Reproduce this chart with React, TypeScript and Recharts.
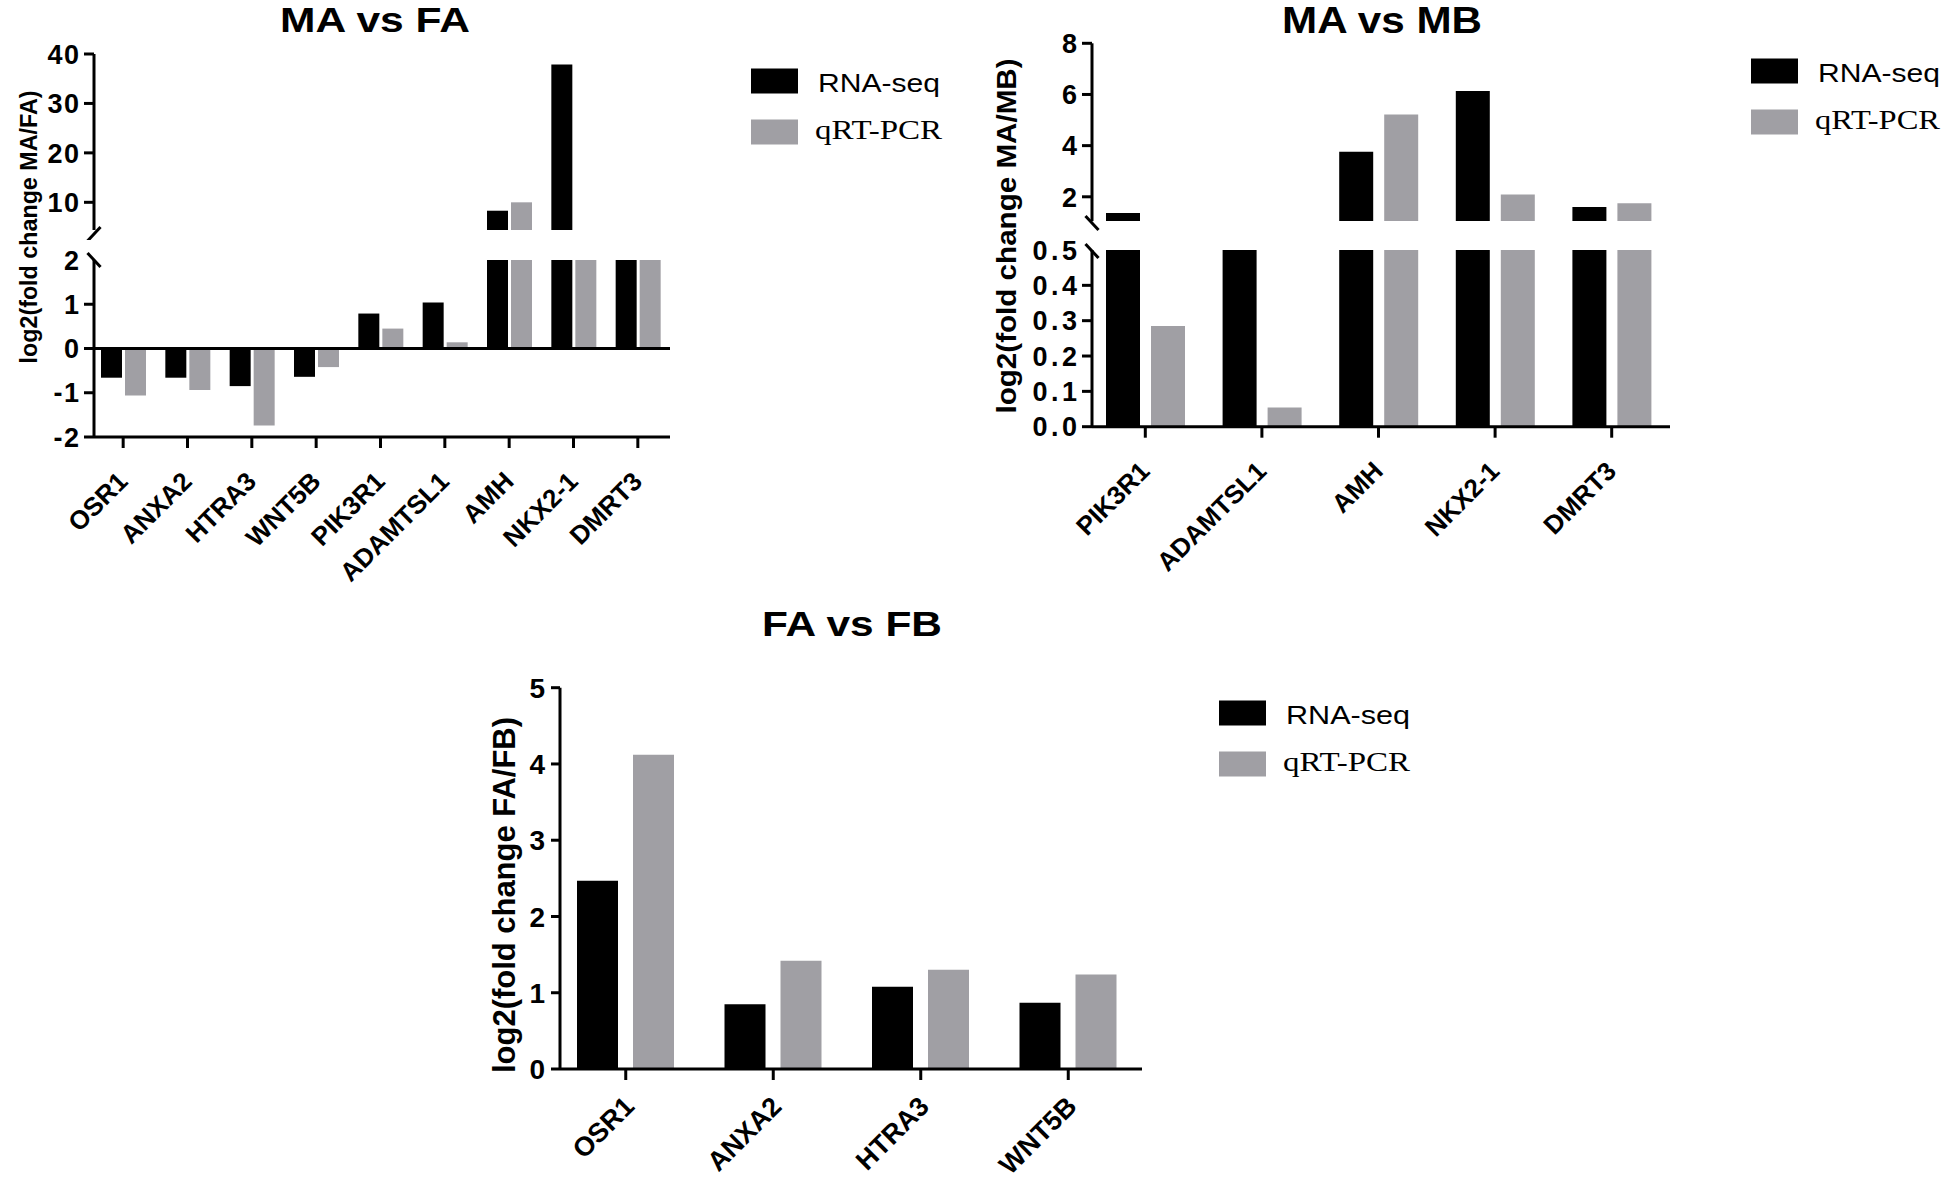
import React from 'react';
import { BarChart, Bar, XAxis, YAxis, ReferenceLine, Legend } from 'recharts';

const SANS = '"Liberation Sans", Arial, sans-serif';
const SERIF = '"Liberation Serif", "Times New Roman", serif';
const BLACK = '#000000';
const GRAY = '#a09fa4';

// ---------- data ----------
const GENES_MA_FA = ['OSR1', 'ANXA2', 'HTRA3', 'WNT5B', 'PIK3R1', 'ADAMTSL1', 'AMH', 'NKX2-1', 'DMRT3'];
const RNASEQ_MA_FA = [-0.66, -0.66, -0.85, -0.64, 0.79, 1.04, 8.3, 37.9, 3.1];
const QPCR_MA_FA = [-1.06, -0.94, -1.74, -0.42, 0.45, 0.14, 10.0, 3.0, 2.9];
const TICKS_MA_FA_UPPER = [10, 20, 30, 40];
const TICKS_MA_FA_LOWER = [-2, -1, 0, 1, 2];

const GENES_MA_MB = ['PIK3R1', 'ADAMTSL1', 'AMH', 'NKX2-1', 'DMRT3'];
const RNASEQ_MA_MB = [1.37, 0.8, 3.76, 6.14, 1.6];
const QPCR_MA_MB = [0.285, 0.054, 5.22, 2.09, 1.75];
const TICKS_MA_MB_UPPER = [2, 4, 6, 8];
const TICKS_MA_MB_LOWER = [0, 0.1, 0.2, 0.3, 0.4, 0.5];

const GENES_FA_FB = ['OSR1', 'ANXA2', 'HTRA3', 'WNT5B'];
const RNASEQ_FA_FB = [2.47, 0.85, 1.08, 0.87];
const QPCR_FA_FB = [4.12, 1.42, 1.3, 1.24];
const TICKS_FA_FB = [0, 1, 2, 3, 4, 5];

const SERIES_NAMES = ['RNA-seq', 'qRT-PCR'];

// axis-break limits
const MA_FA_UPPER_MIN = 4.4;
const MA_FA_LOWER_MAX = 2;
const MA_MB_UPPER_MIN = 1.05;
const MA_MB_LOWER_MAX = 0.5;

function rows(genes: string[], a: number[], b: number[], f: (v: number) => number | null) {
  return genes.map((g, i) => ({ gene: g, rna: f(a[i]), qpcr: f(b[i]) }));
}
const above = (lo: number) => (v: number) => (v > lo ? v : null);
const capAt = (hi: number) => (v: number) => Math.min(v, hi);

const maFaUpper = rows(GENES_MA_FA, RNASEQ_MA_FA, QPCR_MA_FA, above(MA_FA_UPPER_MIN));
const maFaLower = rows(GENES_MA_FA, RNASEQ_MA_FA, QPCR_MA_FA, capAt(MA_FA_LOWER_MAX));
const maMbUpper = rows(GENES_MA_MB, RNASEQ_MA_MB, QPCR_MA_MB, above(MA_MB_UPPER_MIN));
const maMbLower = rows(GENES_MA_MB, RNASEQ_MA_MB, QPCR_MA_MB, capAt(MA_MB_LOWER_MAX));
const faFb = rows(GENES_FA_FB, RNASEQ_FA_FB, QPCR_FA_FB, (v) => v);

// ---------- custom ticks ----------
type YTickOpts = {
  tickSize: number;
  tickMargin: number;
  fontSize: number;
  decimals: number;
  spacing: number;
  breakOnly?: number;
  breakWithLabel?: number;
  slashDir: number; // 1 => "/", -1 => "\"
  slashShift: number;
};

function makeYTick(o: YTickOpts) {
  return (props: any) => {
    const { x, y, payload } = props;
    const v = payload.value;
    const ax = x + o.tickSize + o.tickMargin;
    const slash = (cy: number) => (
      <line x1={ax - 6.5} x2={ax + 6.5} y1={cy + o.slashDir * 7} y2={cy - o.slashDir * 7} stroke={BLACK} strokeWidth={3} />
    );
    if (o.breakOnly !== undefined && Math.abs(v - o.breakOnly) < 1e-9) {
      return <g>{slash(y + o.slashShift)}</g>;
    }
    const isBreakLabel = o.breakWithLabel !== undefined && Math.abs(v - o.breakWithLabel) < 1e-9;
    return (
      <g>
        {isBreakLabel ? slash(y + o.slashShift) : <line x1={ax - o.tickSize} x2={ax} y1={y} y2={y} stroke={BLACK} strokeWidth={3} />}
        <text
          x={x + o.spacing}
          y={y}
          dy="0.36em"
          textAnchor="end"
          fontFamily={SANS}
          fontWeight="bold"
          fontSize={o.fontSize}
          letterSpacing={o.spacing}
          fill={BLACK}
        >
          {v.toFixed(o.decimals)}
        </text>
      </g>
    );
  };
}

function makeXTick(fontSize: number, tickSize: number, dx: number, dy: number) {
  return (props: any) => {
    const { x, y, payload } = props;
    const axisY = y - tickSize;
    const px = x + dx;
    const py = y + dy;
    return (
      <g>
        <line x1={x} x2={x} y1={axisY} y2={axisY + tickSize} stroke={BLACK} strokeWidth={3} />
        <text x={px} y={py} textAnchor="end" transform={`rotate(-45 ${px} ${py})`} fontFamily={SANS} fontWeight="bold" fontSize={fontSize} fill={BLACK}>
          {payload.value}
        </text>
      </g>
    );
  };
}

function makeLegend(rnaLen: number, qLen: number) {
  return () => (
    <svg width={200} height={100} style={{ display: 'block', overflow: 'visible' }}>
      <rect x={6} y={8.5} width={47} height={25} fill={BLACK} />
      <rect x={6} y={59.5} width={47} height={25} fill={GRAY} />
      <text x={73} y={31.5} fontFamily={SANS} fontSize={26} fill={BLACK} textLength={rnaLen} lengthAdjust="spacingAndGlyphs">
        {SERIES_NAMES[0]}
      </text>
      <text x={70} y={79} fontFamily={SERIF} fontSize={28} fill={BLACK} textLength={qLen} lengthAdjust="spacingAndGlyphs">
        {SERIES_NAMES[1]}
      </text>
    </svg>
  );
}

const axisLineStyle = { stroke: BLACK, strokeWidth: 3 };

function Abs({ left, top, children }: any) {
  return <div style={{ position: 'absolute', left, top }}>{children}</div>;
}

export default function App() {
  return (
    <div style={{ position: 'absolute', left: 0, top: 0, width: 1946, height: 1180, background: '#fff', overflow: 'hidden' }}>
      {/* ---------- MA vs FA ---------- */}
      <Abs left={0} top={0}>
        <BarChart width={960} height={240} data={maFaUpper} margin={{ top: 54, right: 290, bottom: 10, left: 0 }} barGap={3}>
          <XAxis dataKey="gene" hide padding={{ left: -3, right: 0 }} />
          <YAxis
            type="number"
            domain={[MA_FA_UPPER_MIN, 40]}
            ticks={[MA_FA_UPPER_MIN, ...TICKS_MA_FA_UPPER]}
            allowDataOverflow
            interval={0}
            width={94}
            tickSize={10}
            tickMargin={5}
            tickLine={false}
            axisLine={axisLineStyle}
            tick={makeYTick({ tickSize: 10, tickMargin: 5, fontSize: 27, decimals: 0, spacing: 1.5, breakOnly: MA_FA_UPPER_MIN, slashDir: 1, slashShift: 4 })}
          />
          <Bar dataKey="rna" name={SERIES_NAMES[0]} fill={BLACK} barSize={21} isAnimationActive={false} />
          <Bar dataKey="qpcr" name={SERIES_NAMES[1]} fill={GRAY} barSize={21} isAnimationActive={false} />
          <Legend layout="vertical" align="center" verticalAlign="middle" wrapperStyle={{ left: 745, top: 60, width: 200, height: 100 }} content={makeLegend(122, 127)} />
        </BarChart>
      </Abs>
      <Abs left={0} top={200}>
        <BarChart width={720} height={400} data={maFaLower} margin={{ top: 60, right: 50, bottom: 0, left: 0 }} barGap={3}>
          <XAxis
            dataKey="gene"
            padding={{ left: -3, right: 0 }}
            height={163}
            interval={0}
            tickSize={11}
            tickMargin={0}
            tickLine={false}
            axisLine={axisLineStyle}
            tick={makeXTick(26, 11, 6, 35)}
          />
          <YAxis
            type="number"
            domain={[-2, MA_FA_LOWER_MAX]}
            ticks={TICKS_MA_FA_LOWER}
            allowDataOverflow
            interval={0}
            width={94}
            tickSize={10}
            tickMargin={5}
            tickLine={false}
            axisLine={axisLineStyle}
            tick={makeYTick({ tickSize: 10, tickMargin: 5, fontSize: 27, decimals: 0, spacing: 1.5, breakWithLabel: MA_FA_LOWER_MAX, slashDir: -1, slashShift: 0 })}
          />
          <Bar dataKey="rna" fill={BLACK} barSize={21} isAnimationActive={false} />
          <Bar dataKey="qpcr" fill={GRAY} barSize={21} isAnimationActive={false} />
          <ReferenceLine y={0} stroke={BLACK} strokeWidth={3} />
        </BarChart>
      </Abs>

      {/* ---------- MA vs MB ---------- */}
      <Abs left={1000} top={0}>
        <BarChart width={946} height={240} data={maMbUpper} margin={{ top: 43.3, right: 276, bottom: 18.9, left: 0 }} barGap={11}>
          <XAxis dataKey="gene" hide padding={{ left: -5, right: 0 }} />
          <YAxis
            type="number"
            domain={[MA_MB_UPPER_MIN, 8]}
            ticks={[MA_MB_UPPER_MIN, ...TICKS_MA_MB_UPPER]}
            allowDataOverflow
            interval={0}
            width={92}
            tickSize={10}
            tickMargin={5}
            tickLine={false}
            axisLine={axisLineStyle}
            tick={makeYTick({ tickSize: 10, tickMargin: 5, fontSize: 27, decimals: 0, spacing: 3, breakOnly: MA_MB_UPPER_MIN, slashDir: -1, slashShift: 2 })}
          />
          <Bar dataKey="rna" name={SERIES_NAMES[0]} fill={BLACK} barSize={34} isAnimationActive={false} />
          <Bar dataKey="qpcr" name={SERIES_NAMES[1]} fill={GRAY} barSize={34} isAnimationActive={false} />
          <Legend layout="vertical" align="center" verticalAlign="middle" wrapperStyle={{ left: 745, top: 50, width: 200, height: 100 }} content={makeLegend(122, 125)} />
        </BarChart>
      </Abs>
      <Abs left={1000} top={200}>
        <BarChart width={946} height={400} data={maMbLower} margin={{ top: 50, right: 276, bottom: 0, left: 0 }} barGap={11}>
          <XAxis
            dataKey="gene"
            padding={{ left: -5, right: 0 }}
            height={173.3}
            interval={0}
            tickSize={11}
            tickMargin={0}
            tickLine={false}
            axisLine={axisLineStyle}
            tick={makeXTick(26, 11, 6, 35)}
          />
          <YAxis
            type="number"
            domain={[0, MA_MB_LOWER_MAX]}
            ticks={TICKS_MA_MB_LOWER}
            allowDataOverflow
            interval={0}
            width={92}
            tickSize={10}
            tickMargin={5}
            tickLine={false}
            axisLine={axisLineStyle}
            tick={makeYTick({ tickSize: 10, tickMargin: 5, fontSize: 27, decimals: 1, spacing: 3.5, breakWithLabel: MA_MB_LOWER_MAX, slashDir: -1, slashShift: 1 })}
          />
          <Bar dataKey="rna" fill={BLACK} barSize={34} isAnimationActive={false} />
          <Bar dataKey="qpcr" fill={GRAY} barSize={34} isAnimationActive={false} />
        </BarChart>
      </Abs>

      {/* ---------- FA vs FB ---------- */}
      <Abs left={400} top={580}>
        <BarChart width={1000} height={600} data={faFb} margin={{ top: 107.7, right: 258, bottom: 0, left: 0 }} barGap={15}>
          <XAxis
            dataKey="gene"
            padding={{ left: -8, right: 0 }}
            height={111}
            interval={0}
            tickSize={11}
            tickMargin={0}
            tickLine={false}
            axisLine={axisLineStyle}
            tick={makeXTick(27, 11, 10, 28)}
          />
          <YAxis
            type="number"
            domain={[0, 5]}
            ticks={TICKS_FA_FB}
            interval={0}
            width={160}
            tickSize={9}
            tickMargin={6}
            tickLine={false}
            axisLine={axisLineStyle}
            tick={makeYTick({ tickSize: 9, tickMargin: 6, fontSize: 28, decimals: 0, spacing: 0, slashDir: 1, slashShift: 0 })}
          />
          <Bar dataKey="rna" name={SERIES_NAMES[0]} fill={BLACK} barSize={41} isAnimationActive={false} />
          <Bar dataKey="qpcr" name={SERIES_NAMES[1]} fill={GRAY} barSize={41} isAnimationActive={false} />
          <Legend layout="vertical" align="center" verticalAlign="middle" wrapperStyle={{ left: 813, top: 112, width: 200, height: 100 }} content={makeLegend(124, 127)} />
        </BarChart>
      </Abs>

      {/* ---------- titles and axis titles ---------- */}
      <svg width={1946} height={1180} style={{ position: 'absolute', left: 0, top: 0, pointerEvents: 'none' }}>
        <text x={375} y={32} textAnchor="middle" fontFamily={SANS} fontWeight="bold" fontSize={35} textLength={190} lengthAdjust="spacingAndGlyphs">MA vs FA</text>
        <text x={1382} y={33} textAnchor="middle" fontFamily={SANS} fontWeight="bold" fontSize={36} textLength={200} lengthAdjust="spacingAndGlyphs">MA vs MB</text>
        <text x={852} y={636} textAnchor="middle" fontFamily={SANS} fontWeight="bold" fontSize={35} textLength={180} lengthAdjust="spacingAndGlyphs">FA vs FB</text>
        <text x={28} y={227} transform="rotate(-90 28 227)" textAnchor="middle" dominantBaseline="central" fontFamily={SANS} fontWeight="bold" fontSize={24} textLength={273} lengthAdjust="spacingAndGlyphs">log2(fold change MA/FA)</text>
        <text x={1007} y={236} transform="rotate(-90 1007 236)" textAnchor="middle" dominantBaseline="central" fontFamily={SANS} fontWeight="bold" fontSize={27} textLength={355} lengthAdjust="spacingAndGlyphs">log2(fold change MA/MB)</text>
        <text x={504} y={895} transform="rotate(-90 504 895)" textAnchor="middle" dominantBaseline="central" fontFamily={SANS} fontWeight="bold" fontSize={31} textLength={356} lengthAdjust="spacingAndGlyphs">log2(fold change FA/FB)</text>
      </svg>
    </div>
  );
}
